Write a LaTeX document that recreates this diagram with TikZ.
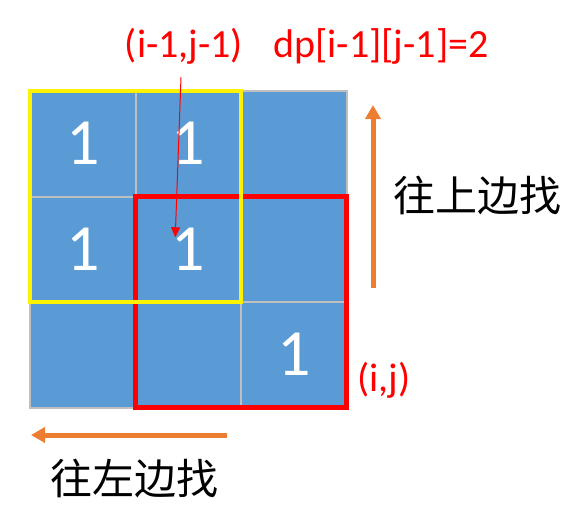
\documentclass[tikz,border=0pt]{standalone}
\usepackage{fontspec}
\setmainfont{Carlito}
\newfontfamily\cjk{Noto Sans CJK SC}
\usetikzlibrary{positioning,arrows.meta}
\definecolor{cellblue}{HTML}{5B9BD5}
\definecolor{gridgray}{HTML}{BFBFBF}
\definecolor{walkorange}{HTML}{ED7D31}

\begin{document}
\begin{tikzpicture}[x=1pt,y=-1pt,
    cell/.style={draw=gridgray,line width=2pt,fill=cellblue,minimum size=105.5pt,
      inner sep=0pt,outer sep=0pt,text=white,font=\fontsize{66}{66}\selectfont},
    redlabel/.style={text=red,inner sep=0pt,font=\fontsize{40}{48}\selectfont},
    cnlabel/.style={text=black,inner sep=0pt,font=\cjk\fontsize{42}{50}\selectfont},
    walk/.style={walkorange,line width=5pt,-{Triangle[length=14pt,width=15pt]}}]

  \useasboundingbox (0,0) rectangle (573,504);

  % grid
  \foreach \r/\c/\v in {0/0/1,0/1/1,0/2/,1/0/1,1/1/1,1/2/,2/0/,2/1/,2/2/1}
    \node[cell] (c\r\c) at ({82.75+105.5*\c},{143.75+105.5*\r}) {\v};

  % frames
  \draw[red,line width=4.5pt] (c11.north west) rectangle (c22.south east);
  \draw[yellow,line width=4.5pt] (c00.north west) rectangle (c11.south east);

  % labels
  \node[redlabel] (pos) at (184,46) {(i-1,j-1)};
  \node[redlabel,right=30pt of pos] (dpv) {dp[i-1][j-1]=2};
  \node[redlabel] (ij) at (384,380) {(i,j)};
  \coordinate (hit) at ([shift={(-13,-12)}]c11.center);
  \draw[red,line width=1pt,-{Triangle[length=10pt,width=9pt]}]
    ([shift={(-3,13)}]pos.south) -- (hit);

  % walking directions
  \coordinate (upS) at (373,288);
  \coordinate (upN) at (373,105);
  \draw[walk] (upS) -- (upN);
  \node[cnlabel] (up) at (477,195) {往上边找};
  \coordinate (leftE) at (227,435);
  \coordinate (leftW) at (31,435);
  \draw[walk] (leftE) -- (leftW);
  \node[cnlabel] (left) at (134,478) {往左边找};
\end{tikzpicture}
\end{document}
